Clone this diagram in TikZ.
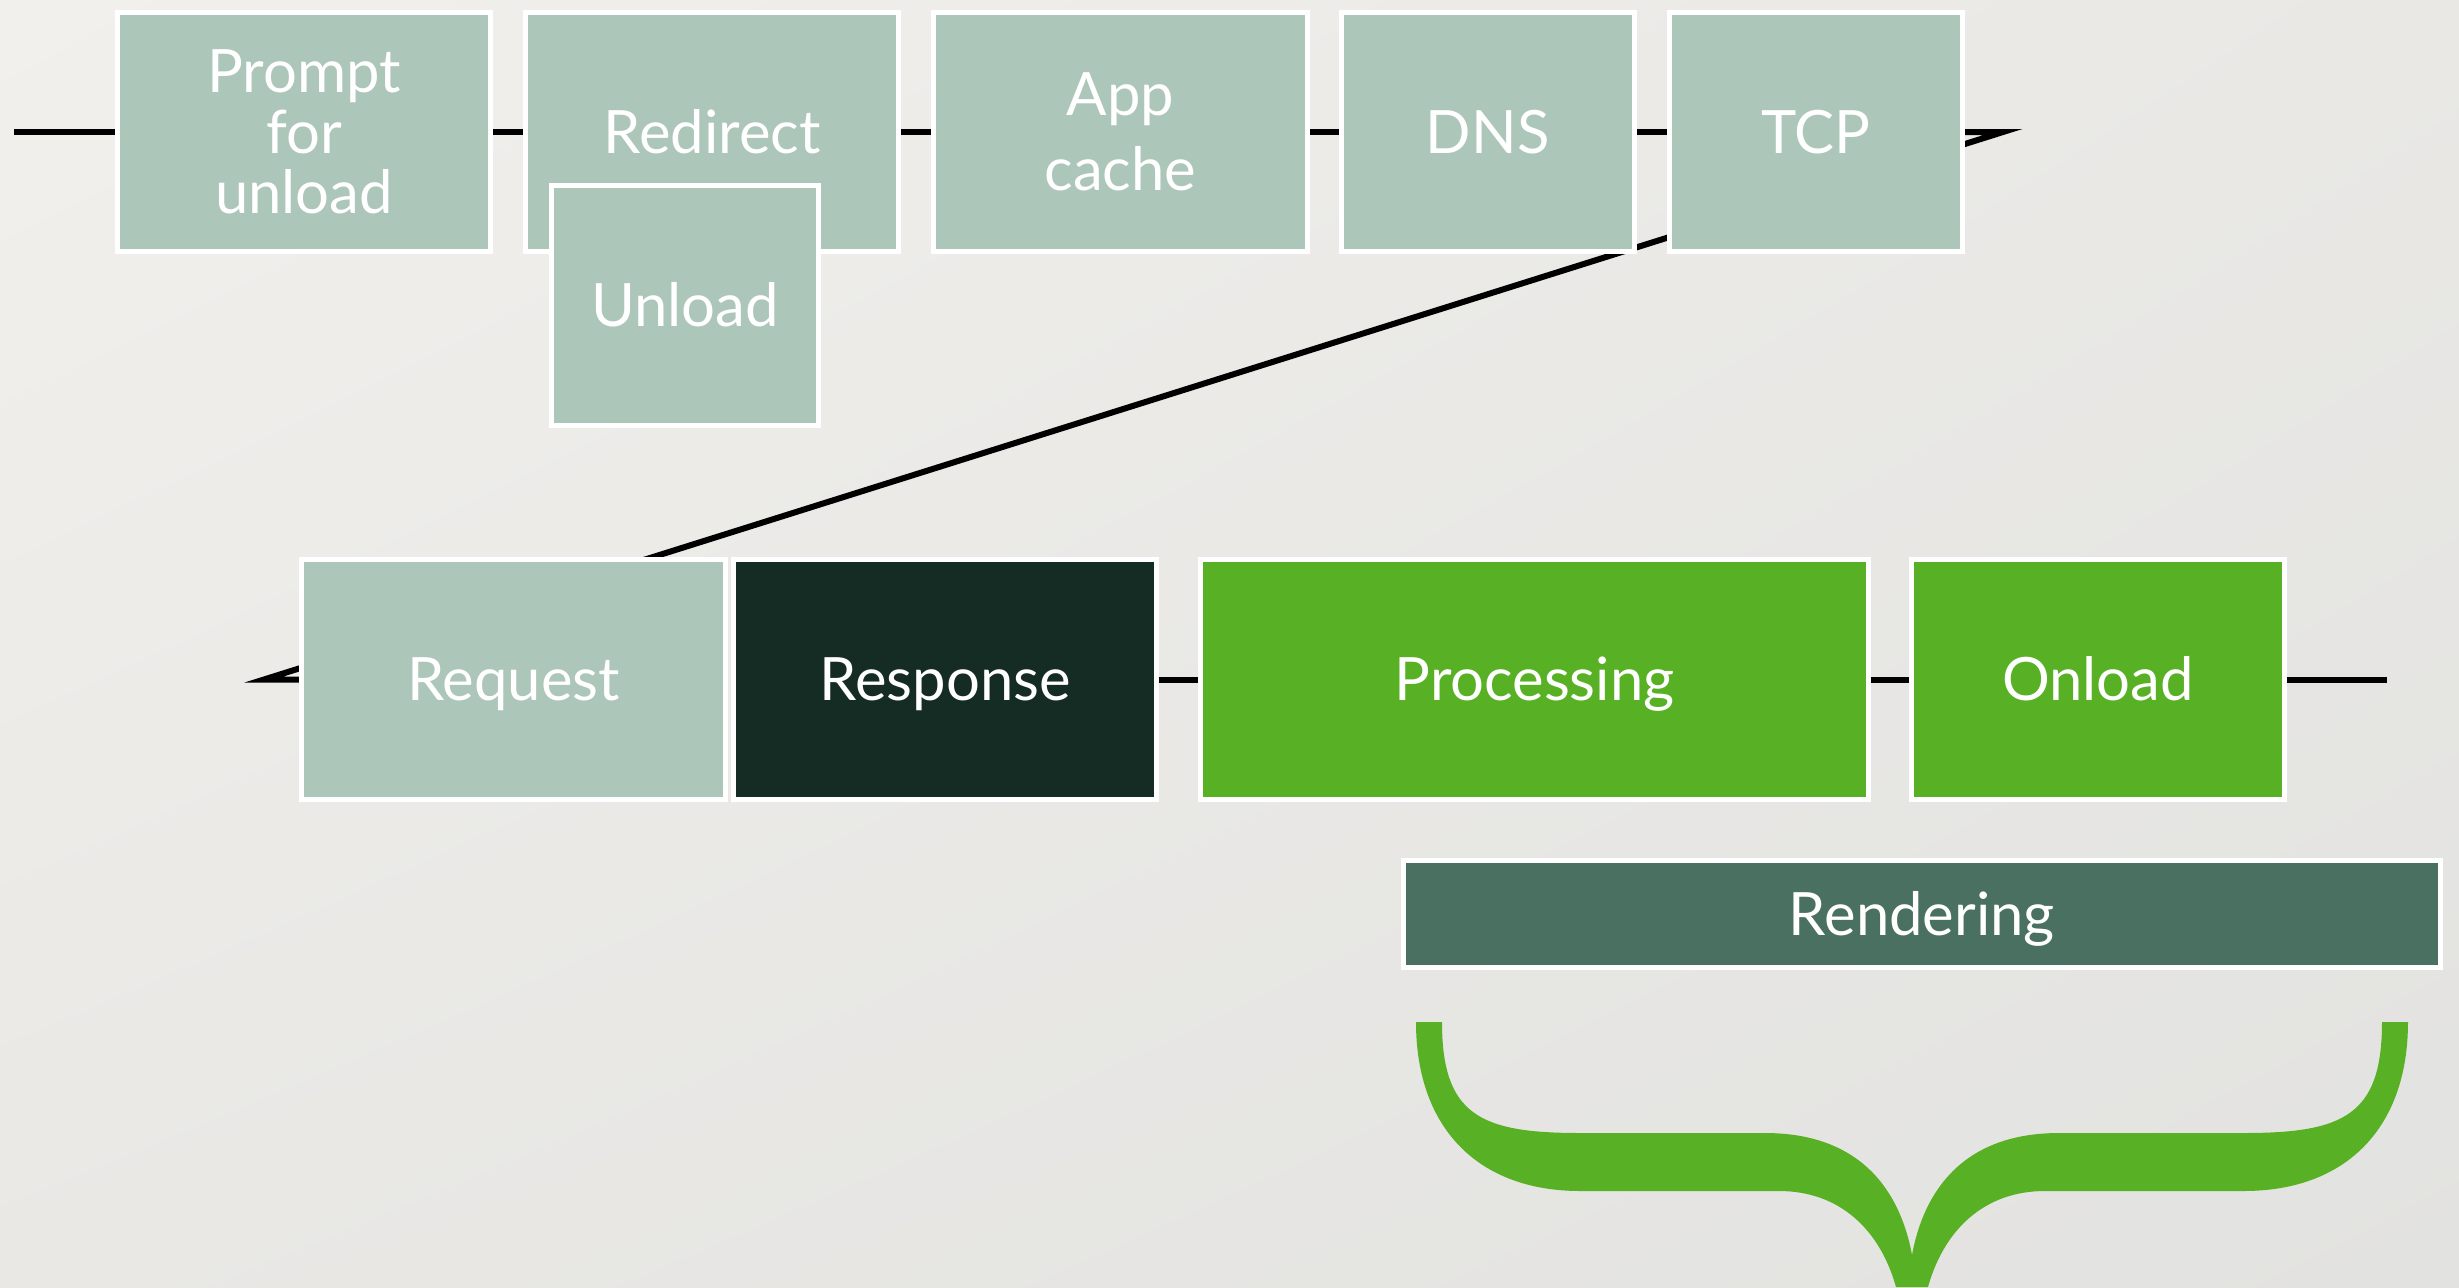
\documentclass[tikz,border=0pt]{standalone}
\usepackage{fontspec}
\setmainfont{Lato}
\usetikzlibrary{positioning,backgrounds,shadings}

\definecolor{sage}{HTML}{ADC6BA}
\definecolor{pine}{HTML}{142C24}
\definecolor{leaf}{HTML}{58B124}
\definecolor{slate}{HTML}{4A7062}
\definecolor{bgA}{HTML}{F1F0ED}
\definecolor{bgB}{HTML}{E9E8E5}
\definecolor{bgC}{HTML}{E2E2E0}

\begin{document}
\begin{tikzpicture}[x=0.01cm, y=-0.01cm,
stage/.style={rectangle, draw=white, line width=0.05cm, fill=sage, text=white, inner sep=0pt, minimum height=2.39cm, font=\fontsize{17}{20}\selectfont},
oneline/.style={text height=12.2pt, text depth=0pt},
link/.style={draw=black, line width=0.06cm},
]
\useasboundingbox (0,0) rectangle (2459,1287);

% top row: \node[type](name)[right=of name]{text}
\node[stage, align=center, minimum width=3.73cm, font=\fontsize{17}{17.2}\selectfont](prompt) at (304,132){Prompt\\for\\unload};
\node[stage, oneline, minimum width=3.73cm](redirect)[right=0.3cm of prompt]{Redirect};
\node[stage, align=center, minimum width=3.73cm, font=\fontsize{17}{21.3}\selectfont](appcache)[right=0.3cm of redirect]{App\\cache};
\node[stage, oneline, minimum width=2.93cm](dns)[right=0.29cm of appcache]{DNS};
\node[stage, oneline, minimum width=2.93cm](tcp)[right=0.3cm of dns]{TCP};
\node[stage, oneline, minimum width=2.67cm, minimum height=2.4cm](unload) at (685,305.5){Unload};

% second row
\node[stage, oneline, minimum width=4.24cm, minimum height=2.4cm](request) at (513.5,679.5){Request};
\node[stage, oneline, fill=pine, minimum width=4.23cm, minimum height=2.4cm](response)[right=0.03cm of request]{Response};
\node[stage, oneline, fill=leaf, minimum width=6.67cm, minimum height=2.4cm](processing)[right=0.39cm of response]{Processing};
\node[stage, oneline, fill=leaf, minimum width=3.73cm, minimum height=2.4cm](onload)[right=0.38cm of processing]{Onload};
\node[stage, oneline, fill=slate, minimum width=10.37cm, minimum height=1.07cm](rendering) at (1922,914){Rendering};

% free ends of the time line
\coordinate (start) at (14,132);
\coordinate (wrapright) at (2003,132);
\coordinate (wrapleft) at (264,679.5);
\coordinate (finish) at (2387,679.5);

% brace under rendering
\fill[leaf] (1416,1022) -- (1442,1022) .. controls (1442,1115) and (1480,1133) .. (1580,1133)
  -- (1765,1133) .. controls (1860,1133) and (1900,1190) .. (1912,1255)
  .. controls (1924,1190) and (1964,1133) .. (2059,1133) -- (2244,1133)
  .. controls (2344,1133) and (2382,1115) .. (2382,1022) -- (2408,1022)
  .. controls (2408,1130) and (2344,1191) .. (2244,1191) -- (2045,1191)
  .. controls (1984,1191) and (1944,1230) .. (1928,1287) -- (1896,1287)
  .. controls (1880,1230) and (1840,1191) .. (1779,1191) -- (1580,1191)
  .. controls (1480,1191) and (1416,1130) .. (1416,1022) -- cycle;

\begin{scope}[on background layer]
\shade[upper left=bgA, upper right=bgB, lower left=bgB, lower right=bgC] (0,0) rectangle (2459,1287);
% \draw[link] (name.east) -- (name.west)
\draw[link] (start) -- (prompt.west);
\draw[link] (prompt.east) -- (redirect.west);
\draw[link] (redirect.east) -- (appcache.west);
\draw[link] (appcache.east) -- (dns.west);
\draw[link] (dns.east) -- (tcp.west);
\draw[link] (tcp.east) -- (wrapright) -- (wrapleft) -- (request.west);
\draw[link] (response.east) -- (processing.west);
\draw[link] (processing.east) -- (onload.west);
\draw[link] (onload.east) -- (finish);
\end{scope}

\end{tikzpicture}
\end{document}
